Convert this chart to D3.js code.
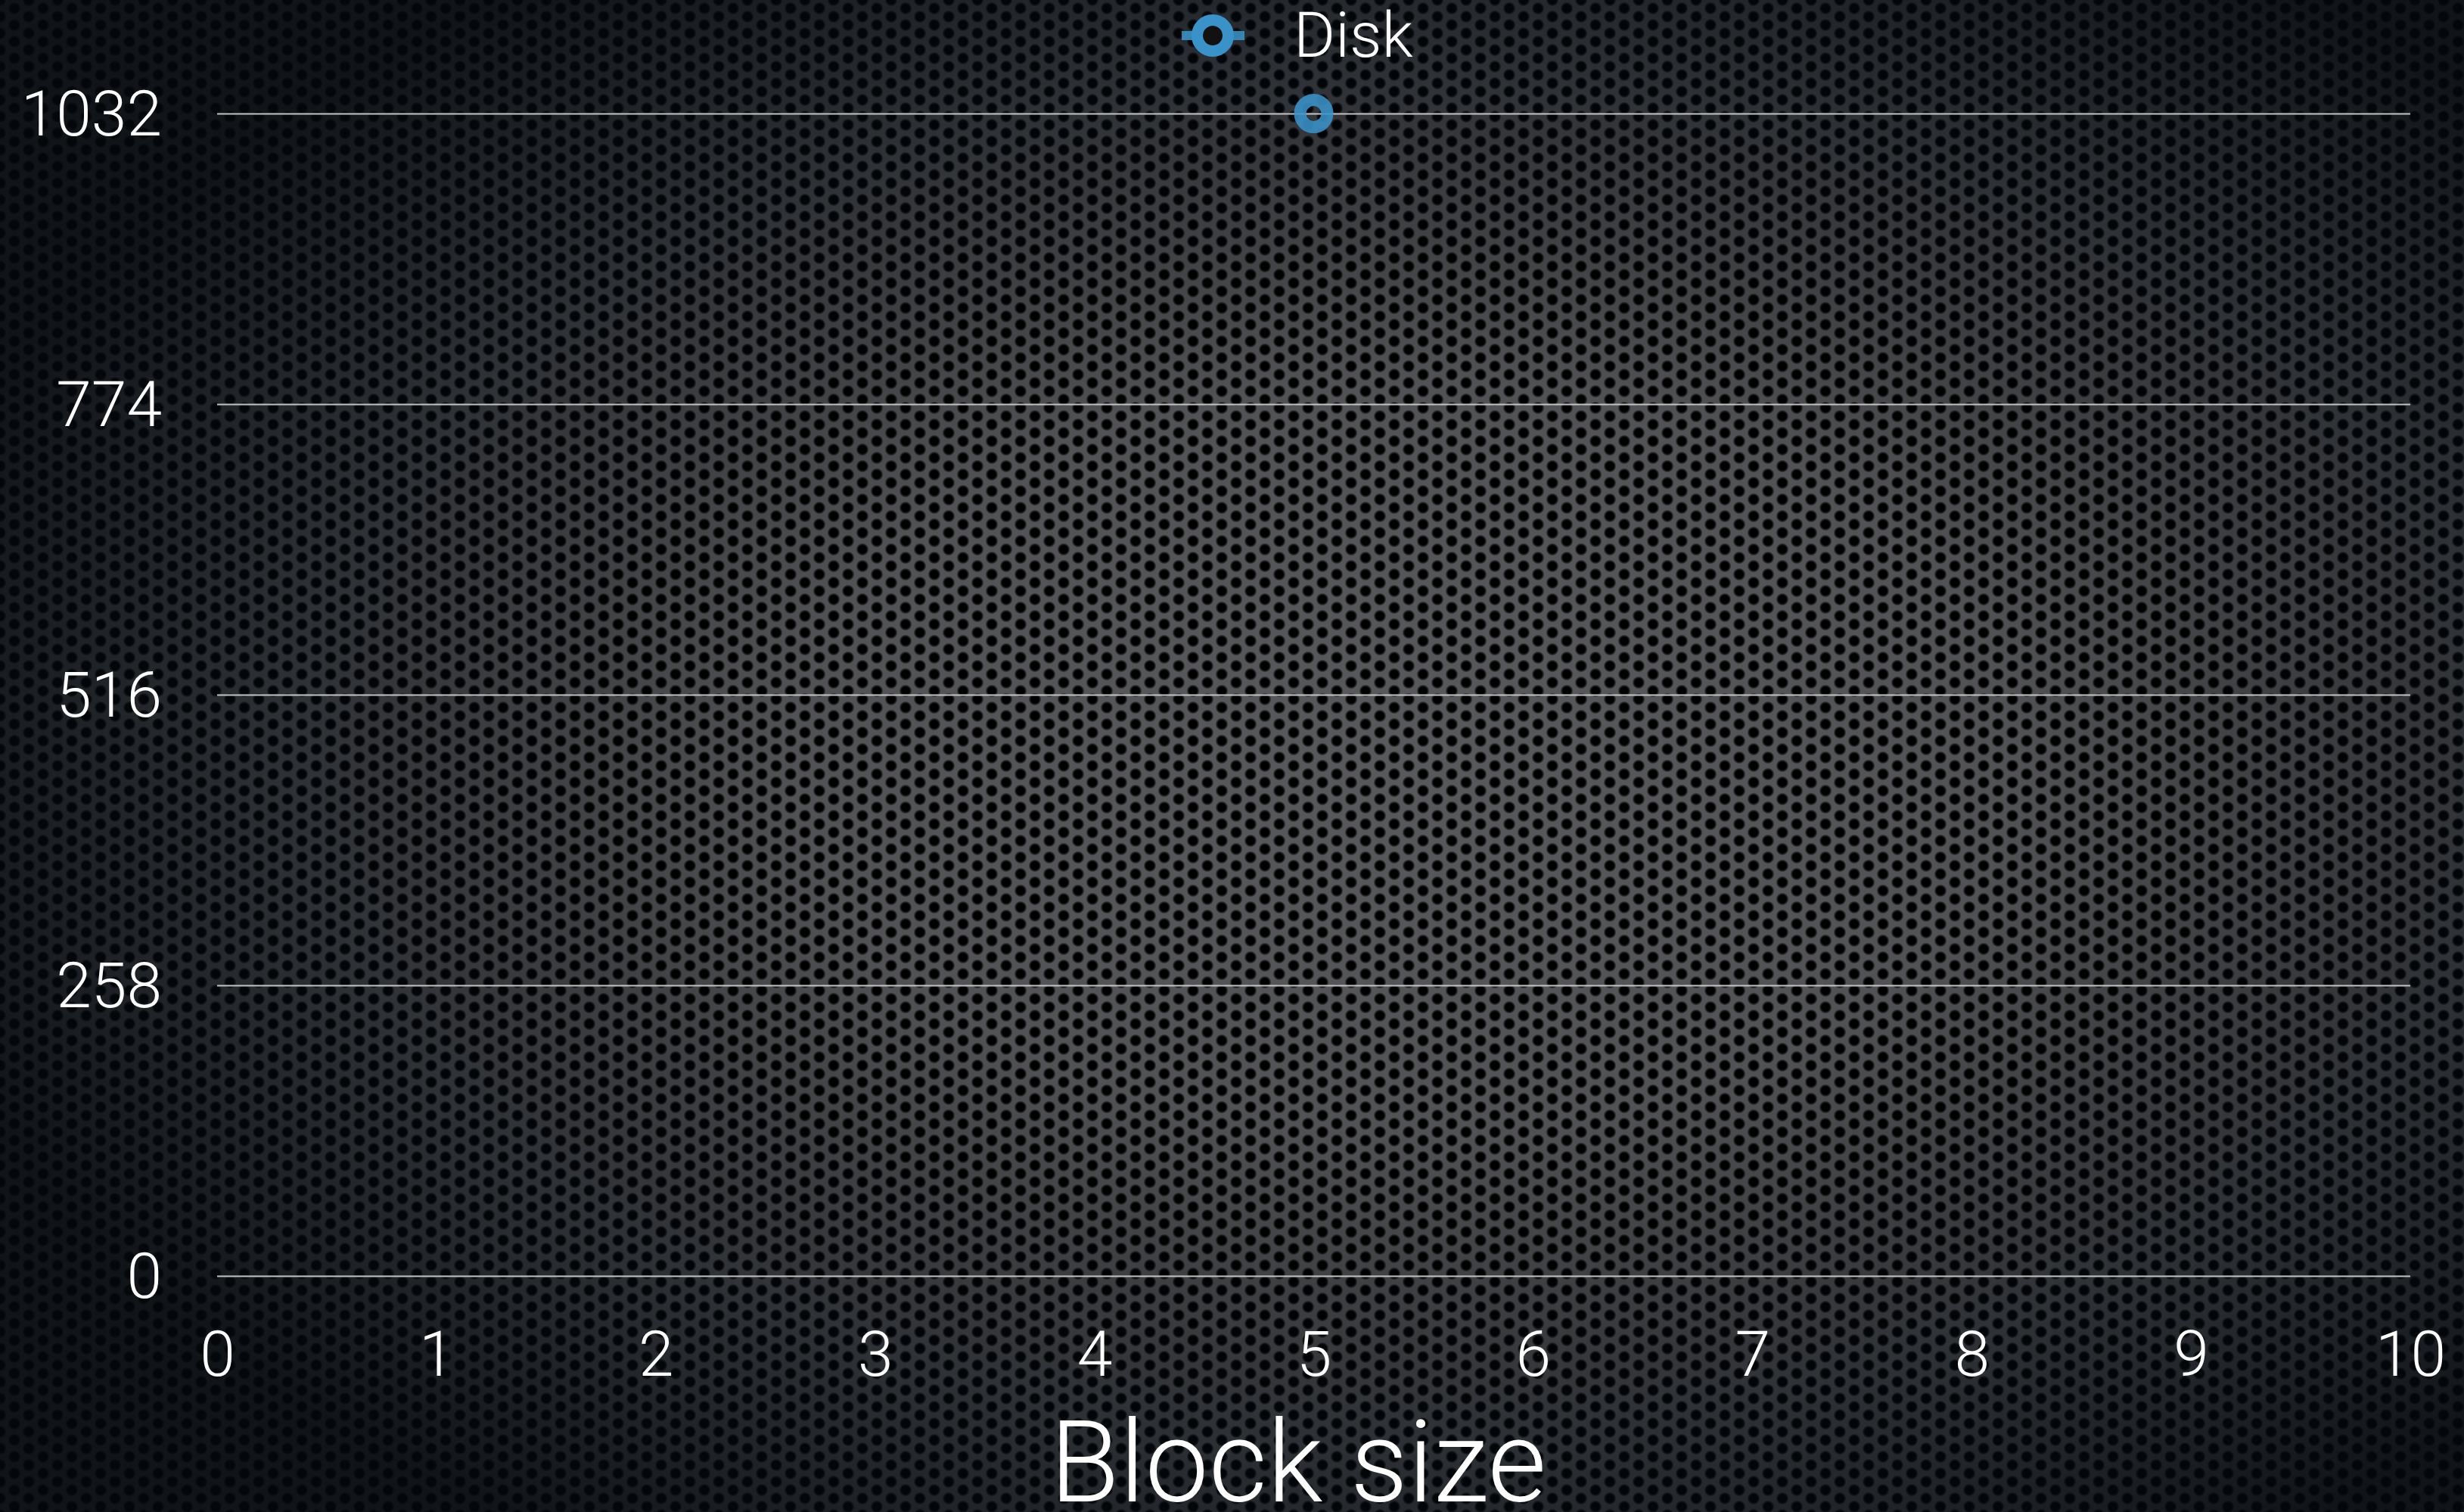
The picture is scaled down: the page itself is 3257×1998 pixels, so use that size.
<!DOCTYPE html>
<html>
<head>
<meta charset="utf-8">
<script src="https://cdn.jsdelivr.net/npm/d3@7"></script>
<style>
  body { margin: 0; background: #000; overflow: hidden; }
  text { font-family: "Helvetica Neue", Roboto, "Open Sans", sans-serif; font-weight: 300; fill: #fff; }
</style>
</head>
<body>
<div id="chart"></div>
<script>
// data
var seriesName = 'Disk'
var blockSize = [5]
var diskValue = [1032]
var xTicks = [0, 1, 2, 3, 4, 5, 6, 7, 8, 9, 10]
var yTicks = [0, 258, 516, 774, 1032]
var xTitle = 'Block size'

var W = 3257, H = 1998
var margin = {left: 287, right: 71, top: 150, bottom: 312}
var blue = '#3a93c8'

var svg = d3.select('#chart').append('svg').attr('width', W).attr('height', H)
var defs = svg.append('defs')

// perforated metal background
var holeGrad = defs.append('radialGradient').attr('id', 'hole')
holeGrad.append('stop').attr('offset', '0%').attr('stop-color', '#000')
holeGrad.append('stop').attr('offset', '60%').attr('stop-color', '#000')
holeGrad.append('stop').attr('offset', '80%').attr('stop-color', '#000').attr('stop-opacity', 0.6)
holeGrad.append('stop').attr('offset', '100%').attr('stop-color', '#000').attr('stop-opacity', 0)

var pat = defs.append('pattern').attr('id', 'metal')
  .attr('patternUnits', 'userSpaceOnUse').attr('width', 38).attr('height', 22)
pat.append('rect').attr('width', 38).attr('height', 22).attr('fill', '#58595c')
;[[0, 0], [38, 0], [0, 22], [38, 22], [19, 11]].forEach(function(p){
  pat.append('circle').attr('cx', p[0]).attr('cy', p[1]).attr('r', 8.5).attr('fill', 'url(#hole)')
})

var vign = defs.append('radialGradient').attr('id', 'vign')
  .attr('cx', '57%').attr('cy', '50%').attr('r', '62%')
vign.append('stop').attr('offset', '0%').attr('stop-color', '#000').attr('stop-opacity', 0)
vign.append('stop').attr('offset', '40%').attr('stop-color', '#000').attr('stop-opacity', 0.08)
vign.append('stop').attr('offset', '72%').attr('stop-color', '#050a10').attr('stop-opacity', 0.5)
vign.append('stop').attr('offset', '100%').attr('stop-color', '#04080c').attr('stop-opacity', 0.85)

svg.append('rect').attr('width', W).attr('height', H).attr('fill', 'url(#metal)')
svg.append('rect').attr('width', W).attr('height', H).attr('fill', 'url(#vign)')

var x = d3.scaleLinear().domain([0, 10]).range([margin.left, W - margin.right])
var y = d3.scaleLinear().domain([0, 1032]).range([H - margin.bottom, margin.top])

// grid lines + y labels
var yAxis = svg.append('g')
  .attr('transform', 'translate(' + margin.left + ',0)')
  .call(d3.axisLeft(y).tickValues(yTicks).tickFormat(d3.format('d'))
    .tickSize(-(x.range()[1] - x.range()[0])).tickPadding(73))
yAxis.select('.domain').remove()
yAxis.selectAll('.tick line').attr('stroke', '#c4c4c4').attr('stroke-width', 2)
yAxis.selectAll('.tick text').attr('font-size', 84).attr('fill', '#fff').attr('dy', '0.34em')
yAxis.attr('font-family', null)

// x labels
var xAxis = svg.append('g')
  .attr('transform', 'translate(0,' + y(0) + ')')
  .call(d3.axisBottom(x).tickValues(xTicks).tickSize(0).tickPadding(72).tickFormat(d3.format('d')))
xAxis.select('.domain').remove()
xAxis.selectAll('.tick text').attr('font-size', 84).attr('fill', '#fff').attr('dy', '0.71em')
xAxis.attr('font-family', null)

svg.append('text')
  .attr('x', 1716).attr('y', 1984)
  .attr('text-anchor', 'middle').attr('font-size', 150)
  .text(xTitle)

// points
var pts = blockSize.map(function(b, i){ return {x: b, y: diskValue[i]} })
svg.selectAll('circle.pt').data(pts).enter().append('circle')
  .attr('class', 'pt')
  .attr('cx', function(d){ return x(d.x) })
  .attr('cy', function(d){ return y(d.y) })
  .attr('r', 18)
  .attr('fill', 'none')
  .attr('stroke', blue).attr('stroke-opacity', 0.88).attr('stroke-width', 16)

// legend
var leg = svg.append('g').attr('transform', 'translate(1603,47)')
leg.append('line').attr('x1', -41).attr('x2', 42)
  .attr('stroke', blue).attr('stroke-opacity', 0.88).attr('stroke-width', 12)
leg.append('circle').attr('r', 20.5).attr('fill', '#3a3b3d')
leg.append('circle').attr('r', 13).attr('fill', '#111')
leg.append('circle').attr('r', 20.5).attr('fill', 'none')
  .attr('stroke', blue).attr('stroke-width', 15)
leg.append('text').attr('x', 107).attr('y', 28).attr('font-size', 84).text(seriesName)
</script>
</body>
</html>
